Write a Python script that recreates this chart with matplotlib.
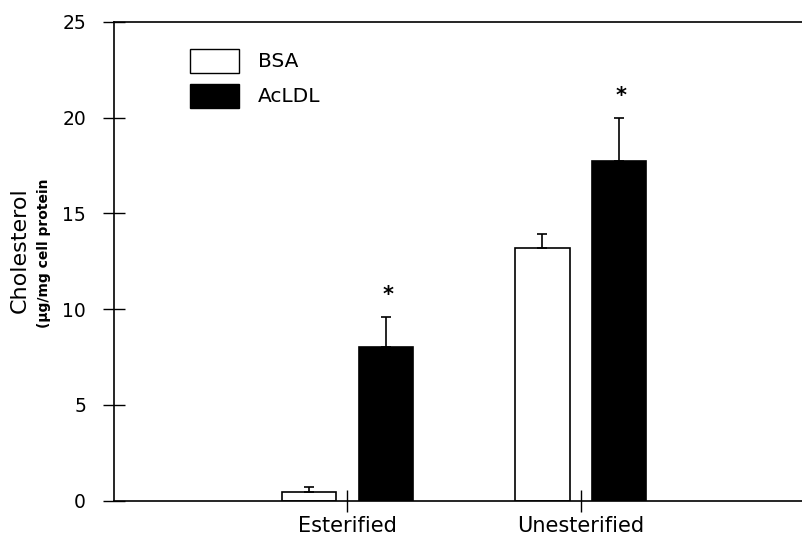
"""Cholesterol content chart: BSA vs AcLDL, esterified / unesterified."""

import matplotlib

matplotlib.use("Agg")
import matplotlib.pyplot as plt
import numpy as np
from matplotlib.patches import Patch

categories = ["Esterified", "Unesterified"]
series_names = ["BSA", "AcLDL"]
bsa_values = [0.45, 13.2]
bsa_errors = [0.27, 0.7]
acldl_values = [8.0, 17.75]
acldl_errors = [1.6, 2.25]
significant = [True, True]
y_ticks = [0, 5, 10, 15, 20, 25]

plt.rcParams["font.family"] = ["DejaVu Sans"]

fig = plt.figure(figsize=(8.02, 5.36), dpi=100)
ax = fig.add_axes([0.142, 0.066, 0.858, 0.893])

positions = np.arange(1, len(categories) + 1)
width = 0.232
offset = 0.164
err_style = dict(ecolor="black", elinewidth=1.2, capsize=3.5, capthick=1.2)

ax.bar(positions - offset, bsa_values, width, color="white", edgecolor="black",
       linewidth=1.2, yerr=[np.zeros(len(bsa_errors)), bsa_errors], error_kw=err_style)
ax.bar(positions + offset, acldl_values, width, color="black", edgecolor="black",
       linewidth=1.2, yerr=[np.zeros(len(acldl_errors)), acldl_errors], error_kw=err_style)

for pos, val, err, sig in zip(positions, acldl_values, acldl_errors, significant):
    if sig:
        ax.text(pos + offset + 0.01, val + err + 0.6, "*", ha="center", va="bottom",
                fontsize=15, fontweight="bold")

ax.set_xlim(0, 2.948)
ax.set_ylim(0, 25)
ax.set_yticks(y_ticks)
ax.set_xticks(positions)
ax.set_xticklabels(categories, fontsize=15)
ax.tick_params(axis="y", direction="inout", length=16, width=1, labelsize=13.5, pad=12)
ax.tick_params(axis="x", direction="inout", length=16, width=1, pad=3)
ax.spines["right"].set_visible(False)
for side in ["left", "top", "bottom"]:
    ax.spines[side].set_linewidth(1.2)

fig.text(0.025, 0.533, "Cholesterol", rotation=90, ha="center", va="center", fontsize=16)
fig.text(0.055, 0.528, "(μg/mg cell protein", rotation=90, ha="center", va="center",
         fontsize=10, fontweight="semibold")

handles = [
    Patch(facecolor="white", edgecolor="black", linewidth=1),
    Patch(facecolor="black", edgecolor="black", linewidth=1),
]
ax.legend(handles, series_names, loc="upper left", bbox_to_anchor=(0.110, 0.944),
          frameon=False, fontsize=14.5, handlelength=2.45, handleheight=1.45,
          handletextpad=0.95, labelspacing=0.55, borderpad=0, borderaxespad=0)

fig.savefig("out.png", dpi=100)
